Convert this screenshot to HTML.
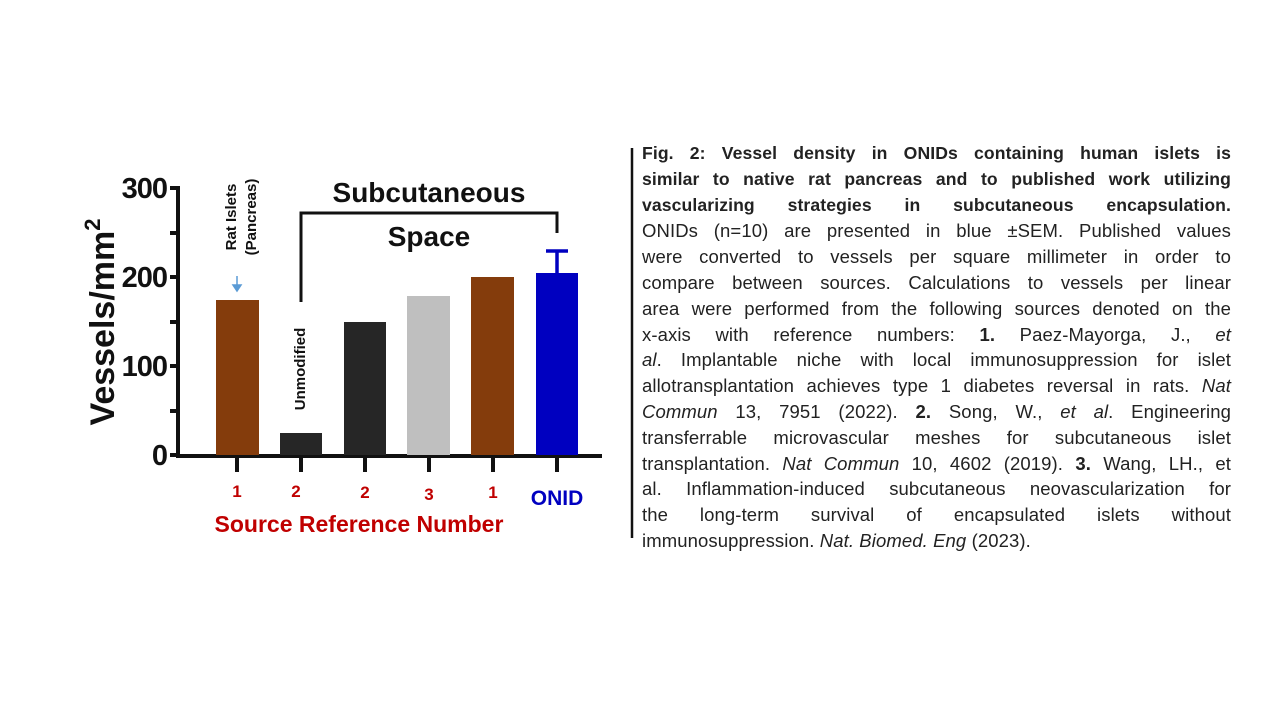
<!DOCTYPE html>
<html><head><meta charset="utf-8"><style>
body{margin:0;width:1280px;height:720px;background:#fff;position:relative;overflow:hidden;font-family:"Liberation Sans",sans-serif}
.cap{position:absolute;left:642px;top:141px;width:589px;font-size:18.5px;color:#222;letter-spacing:0.1px}
.cap div{height:25.8px;line-height:25.8px;text-align:justify;text-align-last:justify;white-space:nowrap;overflow:visible}
.cap div.b{font-size:17.6px;font-weight:bold}
.cap div.l{text-align-last:left}
</style></head><body>
<svg width="1280" height="720" style="position:absolute;left:0;top:0" font-family="Liberation Sans, sans-serif">
<g stroke="#111" stroke-width="4" fill="none">
<line x1="178" y1="186" x2="178" y2="457"/>
<line x1="176" y1="456" x2="602" y2="456"/>
<line x1="170" y1="188" x2="178" y2="188"/>
<line x1="170" y1="277" x2="178" y2="277"/>
<line x1="170" y1="366" x2="178" y2="366"/>
<line x1="170" y1="455" x2="178" y2="455"/>
<line x1="170" y1="233" x2="178" y2="233"/>
<line x1="170" y1="322" x2="178" y2="322"/>
<line x1="170" y1="411" x2="178" y2="411"/>
<line x1="237" y1="456" x2="237" y2="472"/>
<line x1="301" y1="456" x2="301" y2="472"/>
<line x1="365" y1="456" x2="365" y2="472"/>
<line x1="429" y1="456" x2="429" y2="472"/>
<line x1="493" y1="456" x2="493" y2="472"/>
<line x1="557" y1="456" x2="557" y2="472"/>
<polyline stroke-width="3" points="301,302 301,213 557,213 557,233"/>
</g>
<rect x="216" y="300" width="43" height="155" fill="#843c0c"/>
<rect x="280" y="433" width="42" height="22" fill="#262626"/>
<rect x="344" y="322" width="42" height="133" fill="#262626"/>
<rect x="407" y="296" width="43" height="159" fill="#bfbfbf"/>
<rect x="471" y="277" width="43" height="178" fill="#843c0c"/>
<rect x="536" y="273" width="42" height="182" fill="#0000c0"/>
<g stroke="#0000c0" stroke-width="3.5"><line x1="557" y1="273" x2="557" y2="251"/><line x1="546" y1="251" x2="568" y2="251"/></g>
<g stroke="#5b9bd5" stroke-width="1.5" fill="#5b9bd5"><line x1="237" y1="276" x2="237" y2="287"/><polygon points="233,285 241,285 237,291"/></g>
<g font-weight="bold" font-size="29" text-anchor="end" fill="#111" letter-spacing="-1">
<text x="167" y="198">300</text><text x="167" y="287">200</text><text x="167" y="376">100</text><text x="167" y="465">0</text>
</g>
<text transform="translate(114,322) rotate(-90)" text-anchor="middle" font-weight="bold" font-size="34" fill="#111">Vessels/mm<tspan font-size="22" dy="-14">2</tspan></text>
<text x="429" y="202" text-anchor="middle" font-weight="bold" font-size="28" fill="#111">Subcutaneous</text>
<text x="429" y="246" text-anchor="middle" font-weight="bold" font-size="28" fill="#111">Space</text>
<text transform="translate(236,217) rotate(-90)" text-anchor="middle" font-size="15" font-weight="bold" fill="#111">Rat Islets</text>
<text transform="translate(256,217) rotate(-90)" text-anchor="middle" font-size="15" font-weight="bold" fill="#111">(Pancreas)</text>
<text transform="translate(305,369) rotate(-90)" text-anchor="middle" font-size="15" font-weight="bold" fill="#111">Unmodified</text>
<g font-weight="bold" font-size="17" fill="#c00000" text-anchor="middle">
<text x="237" y="497">1</text><text x="296" y="497">2</text><text x="365" y="498">2</text><text x="429" y="500">3</text><text x="493" y="498">1</text>
</g>
<text x="557" y="505" text-anchor="middle" font-weight="bold" font-size="21" fill="#0000c0">ONID</text>
<text x="359" y="532" text-anchor="middle" font-weight="bold" font-size="23" fill="#c00000">Source Reference Number</text>
<line x1="632" y1="148" x2="632" y2="538" stroke="#111" stroke-width="2.5"/>
</svg>
<div class="cap">
<div class="b">Fig. 2: Vessel density in ONIDs containing human islets is</div>
<div class="b">similar to native rat pancreas and to published work utilizing</div>
<div class="b">vascularizing strategies in subcutaneous encapsulation.</div>
<div>ONIDs (n=10) are presented in blue ±SEM. Published values</div>
<div>were converted to vessels per square millimeter in order to</div>
<div>compare between sources. Calculations to vessels per linear</div>
<div>area were performed from the following sources denoted on the</div>
<div>x-axis with reference numbers: <b>1.</b> Paez-Mayorga, J., <i>et</i></div>
<div><i>al</i>. Implantable niche with local immunosuppression for islet</div>
<div>allotransplantation achieves type 1 diabetes reversal in rats. <i>Nat</i></div>
<div><i>Commun</i> 13, 7951 (2022). <b>2.</b> Song, W., <i>et al</i>. Engineering</div>
<div>transferrable microvascular meshes for subcutaneous islet</div>
<div>transplantation. <i>Nat Commun</i> 10, 4602 (2019). <b>3.</b> Wang, LH., et</div>
<div>al. Inflammation-induced subcutaneous neovascularization for</div>
<div>the long-term survival of encapsulated islets without</div>
<div class="l">immunosuppression. <i>Nat. Biomed. Eng</i> (2023).</div>
</div>
</body></html>
